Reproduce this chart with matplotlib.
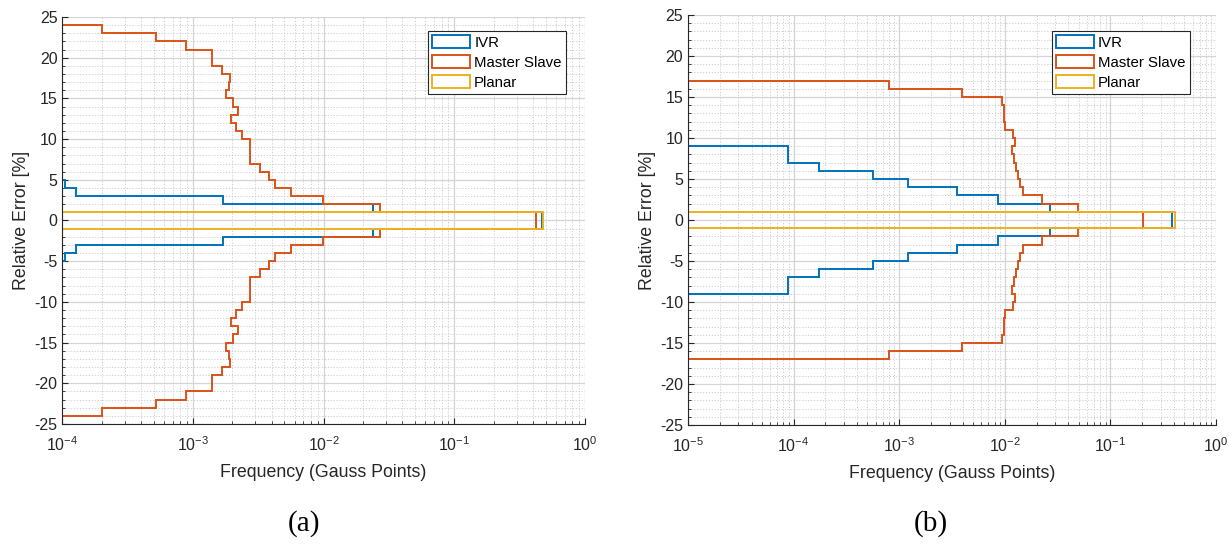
import matplotlib
import matplotlib.pyplot as plt
import numpy as np
from matplotlib.patches import Patch
from matplotlib.ticker import LogLocator, MultipleLocator

matplotlib.use("Agg")

plt.rcParams["font.family"] = ["Liberation Sans", "DejaVu Sans"]
plt.rcParams["mathtext.fontset"] = "custom"
plt.rcParams["mathtext.rm"] = "Liberation Sans"
plt.rcParams["axes.unicode_minus"] = False

# bin edges (relative error, %) and frequencies
# panel (a)
edges_ivr_a = np.arange(-5, 6)
ivr_a = [1.05e-4, 1.27e-4, 1.71e-3, 0.024, 0.47,
         0.47, 0.024, 1.71e-3, 1.27e-4, 1.05e-4]

edges_ms_a = np.arange(-24, 25)
ms_a = [0.0002, 0.000525, 0.00088, 0.00139, 0.00139, 0.00168, 0.00192, 0.00187,
        0.0018, 0.00204, 0.00223, 0.00195, 0.00215, 0.00237, 0.00274, 0.00274,
        0.00274, 0.00323, 0.0038, 0.00427, 0.00565, 0.0099, 0.027, 0.42,
        0.42, 0.027, 0.0099, 0.00565, 0.00427, 0.0038, 0.00323, 0.00274,
        0.00274, 0.00274, 0.00237, 0.00215, 0.00195, 0.00223, 0.00204, 0.0018,
        0.00187, 0.00192, 0.00168, 0.00139, 0.00139, 0.00088, 0.000525, 0.0002]

edges_pl_a = np.arange(-1, 2)
planar_a = [0.48, 0.48]

# panel (b)
edges_ivr_b = np.arange(-9, 10)
ivr_b = [8.9e-5, 8.9e-5, 1.75e-4, 5.6e-4, 1.2e-3, 3.5e-3, 8.6e-3, 0.027, 0.38,
         0.38, 0.027, 8.6e-3, 3.5e-3, 1.2e-3, 5.6e-4, 1.75e-4, 8.9e-5, 8.9e-5]

edges_ms_b = np.arange(-17, 18)
ms_b = [0.000805, 0.0039, 0.00935, 0.0098, 0.0098, 0.0100, 0.0120, 0.0125,
        0.0118, 0.0123, 0.0128, 0.0134, 0.0139, 0.0150, 0.0224, 0.0497, 0.205,
        0.205, 0.0497, 0.0224, 0.0150, 0.0139, 0.0134, 0.0128, 0.0123,
        0.0118, 0.0125, 0.0120, 0.0100, 0.0098, 0.0098, 0.00935, 0.0039, 0.000805]

edges_pl_b = np.arange(-1, 2)
planar_b = [0.41, 0.41]

labels = ["IVR", "Master Slave", "Planar"]
colors = ["#0072BD", "#D95319", "#EDB120"]
axis_col = "#262626"

fig = plt.figure(figsize=(12.29, 5.48), dpi=100)
ax_a = fig.add_axes([0.0507, 0.2263, 0.4253, 0.7427])
ax_b = fig.add_axes([0.5598, 0.2245, 0.4296, 0.7482])

panels = [
    (ax_a, [(edges_ivr_a, ivr_a), (edges_ms_a, ms_a), (edges_pl_a, planar_a)], 1e-4, (0.964, 0.966)),
    (ax_b, [(edges_ivr_b, ivr_b), (edges_ms_b, ms_b), (edges_pl_b, planar_b)], 1e-5, (0.951, 0.961)),
]

for ax, series, xmin, leg_pos in panels:
    for (edges, vals), col in zip(series, colors):
        ax.stairs(vals, edges, orientation="horizontal", baseline=1e-8,
                  color=col, linewidth=1.4)
    ax.set_xscale("log")
    ax.set_xlim(xmin, 1)
    ax.set_ylim(-25, 25)
    ax.set_yticks(np.arange(-25, 26, 5))
    ax.yaxis.set_minor_locator(MultipleLocator(1))
    ax.xaxis.set_minor_locator(LogLocator(base=10, subs=np.arange(2, 10)))
    ax.grid(which="major", color="#d4d4d4", linewidth=0.9)
    ax.grid(which="minor", color="#c8c8c8", linestyle=(0, (1.5, 2)), linewidth=0.6)
    ax.set_axisbelow(True)
    for side in ["top", "right"]:
        ax.spines[side].set_visible(False)
    for side in ["left", "bottom"]:
        ax.spines[side].set_color(axis_col)
        ax.spines[side].set_linewidth(0.8)
    ax.tick_params(which="both", direction="in", colors=axis_col, labelsize=11.5,
                   labelcolor=axis_col)
    ax.tick_params(which="major", length=4)
    ax.tick_params(which="minor", length=2.2)
    ax.tick_params(axis="x", pad=8)
    ax.set_xlabel("Frequency (Gauss Points)", fontsize=12.8, color=axis_col, labelpad=7)
    ax.set_ylabel("Relative Error [%]", fontsize=12.8, color=axis_col, labelpad=3)

    handles = [Patch(facecolor="none", edgecolor=c, linewidth=1.4, label=l)
               for c, l in zip(colors, labels)]
    leg = ax.legend(handles=handles, loc="upper right", bbox_to_anchor=leg_pos,
                    fontsize=10.8, fancybox=False, framealpha=1, edgecolor=axis_col,
                    borderpad=0.3, labelspacing=0.35, handlelength=2.5,
                    handleheight=0.95, handletextpad=0.3, borderaxespad=0)
    leg.get_frame().set_linewidth(0.8)

fig.text(0.2475, 0.045, "(a)", ha="center", va="center", fontsize=21,
         family=["Liberation Serif", "DejaVu Serif"])
fig.text(0.757, 0.045, "(b)", ha="center", va="center", fontsize=21,
         family=["Liberation Serif", "DejaVu Serif"])

fig.savefig("out.png", dpi=100, facecolor="white")
